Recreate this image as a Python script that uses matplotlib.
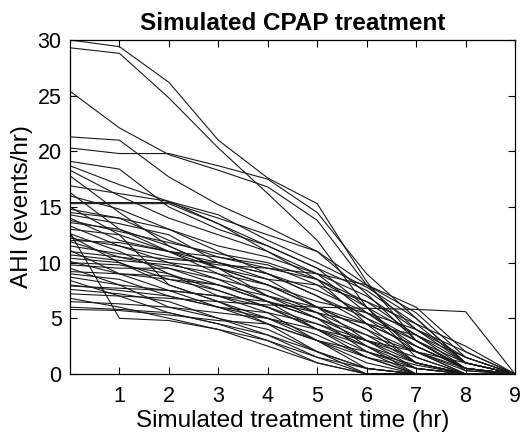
import matplotlib
matplotlib.use("Agg")
import matplotlib.pyplot as plt
import numpy as np

hours = [0, 1, 2, 3, 4, 5, 6, 7, 8, 9]
x_ticks = [1, 2, 3, 4, 5, 6, 7, 8, 9]
y_ticks = [0, 5, 10, 15, 20, 25, 30]

s01 = [30.0, 29.4, 26.2, 21.0, 17.6, 15.3, 8.3, 3.0, 0.5, 0]
s02 = [29.3, 28.8, 24.8, 20.3, 16.2, 12.0, 6.0, 1.5, 0, 0]
s03 = [25.4, 22.1, 19.7, 18.3, 16.8, 13.8, 8.0, 4.0, 1.0, 0]
s04 = [21.3, 21.0, 17.7, 15.2, 13.2, 11.0, 7.2, 3.0, 0.3, 0]
s05 = [20.3, 19.8, 19.8, 18.7, 17.5, 14.5, 9.0, 5.0, 1.0, 0]
s06 = [19.1, 18.4, 15.0, 13.0, 11.5, 9.5, 6.0, 2.0, 0, 0]
s07 = [18.3, 16.0, 14.0, 12.5, 11.0, 9.0, 5.5, 2.5, 0.5, 0]
s08 = [17.8, 14.5, 11.5, 9.5, 8.0, 6.0, 3.0, 0.5, 0, 0]
s09 = [16.9, 16.2, 15.5, 14.3, 12.0, 10.0, 7.8, 5.0, 1.0, 0]
s10 = [16.3, 13.0, 11.0, 9.0, 7.0, 5.5, 2.5, 0, 0, 0]
s11 = [15.4, 15.4, 15.4, 14.0, 12.5, 11.0, 8.0, 6.0, 2.0, 0]
s12 = [15.3, 15.3, 15.3, 13.5, 11.5, 9.5, 7.5, 4.5, 1.0, 0]
s13 = [15.0, 12.5, 8.0, 6.5, 5.0, 3.0, 0.5, 0, 0, 0]
s14 = [12.7, 5.0, 4.8, 4.0, 3.0, 1.5, 0.5, 0, 0, 0]
s15 = [14.8, 14.0, 12.0, 10.5, 9.5, 8.5, 6.5, 3.5, 0.5, 0]
s16 = [14.3, 13.5, 12.5, 10.0, 8.5, 6.0, 4.0, 1.0, 0, 0]
s17 = [14.0, 12.0, 11.0, 10.5, 9.8, 8.0, 5.0, 2.0, 0, 0]
s18 = [13.6, 13.0, 11.5, 9.5, 7.0, 5.0, 2.0, 0, 0, 0]
s19 = [13.3, 11.5, 10.0, 8.5, 6.5, 4.0, 1.5, 0, 0, 0]
s20 = [13.0, 12.5, 11.0, 10.0, 9.0, 7.5, 5.5, 3.0, 0.5, 0]
s21 = [12.6, 11.0, 9.0, 7.0, 5.5, 3.0, 1.0, 0, 0, 0]
s22 = [12.2, 11.5, 10.5, 9.8, 9.5, 9.0, 8.0, 5.5, 1.5, 0]
s23 = [11.9, 10.5, 9.5, 8.0, 6.5, 5.0, 3.0, 1.0, 0, 0]
s24 = [11.5, 10.8, 10.3, 10.0, 9.0, 7.0, 4.5, 2.5, 0.5, 0]
s25 = [11.1, 9.0, 7.5, 6.0, 5.0, 3.5, 1.5, 0, 0, 0]
s26 = [10.7, 10.2, 9.8, 9.0, 8.0, 6.5, 5.5, 4.0, 2.0, 0]
s27 = [10.4, 10.0, 8.0, 6.5, 4.5, 2.0, 0, 0, 0, 0]
s28 = [10.1, 9.0, 8.5, 8.0, 7.0, 6.0, 4.0, 2.0, 0.3, 0]
s29 = [9.8, 9.5, 9.5, 8.5, 7.5, 5.5, 3.5, 1.0, 0, 0]
s30 = [9.5, 8.0, 6.0, 5.0, 4.0, 2.0, 0.5, 0, 0, 0]
s31 = [9.0, 8.5, 7.0, 6.0, 5.5, 4.5, 3.0, 1.5, 0, 0]
s32 = [8.7, 8.0, 7.5, 7.0, 6.5, 5.5, 4.5, 3.5, 1.5, 0]
s33 = [8.4, 7.0, 5.5, 4.5, 3.5, 2.0, 0.5, 0, 0, 0]
s34 = [8.0, 7.5, 7.0, 6.0, 4.5, 3.0, 1.5, 0.5, 0, 0]
s35 = [7.6, 7.2, 6.5, 5.0, 3.5, 1.5, 0, 0, 0, 0]
s36 = [7.2, 7.0, 6.8, 6.5, 6.2, 6.0, 5.9, 5.8, 5.6, 0]
s37 = [6.8, 6.0, 5.0, 4.0, 2.5, 1.0, 0, 0, 0, 0]
s38 = [6.5, 6.3, 6.0, 5.5, 5.0, 4.0, 3.0, 2.0, 1.0, 0]
s39 = [6.0, 5.8, 5.5, 4.5, 3.0, 1.0, 0, 0, 0, 0]
s40 = [5.8, 5.7, 5.3, 4.8, 4.5, 3.0, 2.0, 0.8, 0, 0]
s41 = [14.5, 14.0, 13.0, 11.0, 9.0, 7.0, 5.0, 3.0, 1.0, 0]
s42 = [12.0, 11.8, 11.0, 9.5, 8.0, 6.0, 4.5, 2.5, 0.5, 0]
s43 = [11.0, 10.5, 10.0, 9.5, 8.5, 8.0, 6.5, 4.5, 2.5, 0]
s44 = [10.0, 9.8, 9.0, 7.5, 6.0, 4.0, 2.0, 0.5, 0, 0]
s45 = [9.2, 9.0, 8.8, 8.0, 6.5, 5.0, 3.5, 2.0, 0.5, 0]
s46 = [13.8, 12.8, 11.8, 10.8, 10.0, 8.5, 6.0, 3.5, 1.0, 0]
s47 = [16.0, 14.8, 13.0, 11.5, 10.5, 9.0, 7.0, 4.0, 1.5, 0]
s48 = [12.4, 10.0, 8.5, 7.5, 6.0, 4.5, 2.5, 0.5, 0, 0]
s49 = [7.9, 7.7, 7.5, 7.0, 6.0, 4.0, 2.5, 1.0, 0, 0]
s50 = [18.7, 17.0, 15.5, 13.5, 11.0, 8.5, 4.5, 1.0, 0, 0]

series = [s01, s02, s03, s04, s05, s06, s07, s08, s09, s10,
          s11, s12, s13, s14, s15, s16, s17, s18, s19, s20,
          s21, s22, s23, s24, s25, s26, s27, s28, s29, s30,
          s31, s32, s33, s34, s35, s36, s37, s38, s39, s40,
          s41, s42, s43, s44, s45, s46, s47, s48, s49, s50]

plt.rcParams['font.family'] = ['Liberation Sans', 'DejaVu Sans']

fig = plt.figure(figsize=(5.29, 4.37), dpi=100)
ax = fig.add_axes([0.1323, 0.1442, 0.8412, 0.7643])

for s in series:
    ax.plot(hours, s, color='#1a1a1a', linewidth=0.8)

ax.set_xlim(0, 9)
ax.set_ylim(0, 30)
ax.set_xticks(x_ticks)
ax.set_yticks(y_ticks)
ax.tick_params(axis='both', direction='in', length=5, width=0.8, top=True, right=True,
               labelsize=15.5)
ax.tick_params(axis='x', pad=9)
ax.tick_params(axis='y', pad=6)
for sp in ax.spines.values():
    sp.set_linewidth(0.9)

ax.set_xlabel('Simulated treatment time (hr)', fontsize=17.5, labelpad=2)
ax.set_ylabel('AHI (events/hr)', fontsize=17.5, labelpad=3)
ax.set_title('Simulated CPAP treatment', fontsize=17.5, fontweight='bold', pad=7)

fig.savefig('out.png', dpi=100)
